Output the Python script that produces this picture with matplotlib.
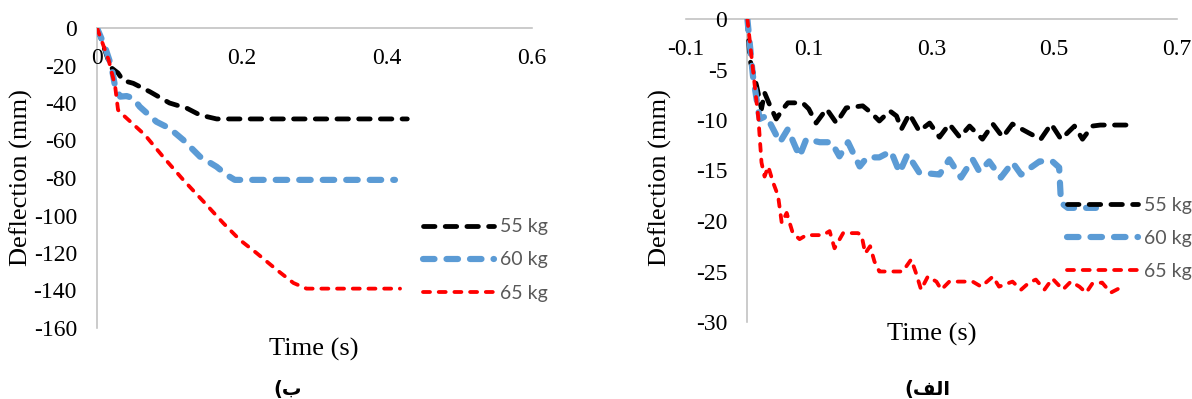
import matplotlib
matplotlib.use("Agg")
import matplotlib.pyplot as plt

# ---------------- data: left chart (ب) ----------------
left_t55 = [0, 0.005, 0.019, 0.029, 0.036, 0.05, 0.073, 0.1, 0.124, 0.142, 0.165, 0.428]
left_d55 = [0, -5, -21, -24, -28, -29.5, -34, -40, -42.8, -46.4, -48.5, -48.5]

left_t60 = [0, 0.011, 0.02, 0.025, 0.032, 0.041, 0.05, 0.059, 0.082, 0.1, 0.119, 0.142, 0.165, 0.179, 0.19, 0.411]
left_d60 = [0, -10, -20.6, -31.3, -36.6, -36.3, -37.5, -42, -50, -53.5, -59.7, -68.6, -74, -78.4, -81, -81]

left_t65 = [0, 0.016, 0.025, 0.029, 0.036, 0.066, 0.091, 0.119, 0.147, 0.174, 0.197, 0.22, 0.248, 0.271, 0.289, 0.418]
left_d65 = [0, -17, -31, -43.7, -46.4, -57, -68.6, -81, -92.6, -104, -113, -120, -129, -136, -139, -139]

left_xticks = [0, 0.2, 0.4, 0.6]
left_yticks = [0, -20, -40, -60, -80, -100, -120, -140, -160]

# ---------------- data: right chart (الف) ----------------
right_t55 = [0, 0.004, 0.015, 0.023, 0.028, 0.037, 0.047, 0.058, 0.066, 0.09, 0.1, 0.112, 0.129, 0.145,
             0.161, 0.188, 0.202, 0.215, 0.232, 0.243, 0.251, 0.264, 0.28, 0.297, 0.313, 0.329, 0.346,
             0.362, 0.383, 0.4, 0.416, 0.432, 0.459, 0.478, 0.495, 0.511, 0.533, 0.546, 0.562, 0.575, 0.62]
right_d55 = [0, -4, -6.6, -8.9, -7.3, -8.6, -9.9, -8.9, -8.3, -8.3, -8.9, -10.3, -8.9, -10.3,
             -8.8, -8.6, -9.3, -10.1, -9.1, -9.6, -10.9, -9.4, -11.1, -10.3, -11.7, -10.4, -11.7,
             -10.6, -11.9, -10.4, -11.7, -10.4, -11.3, -11.9, -10.4, -11.9, -10.6, -11.9, -10.6, -10.5, -10.5]

right_t60 = [0, 0.009, 0.02, 0.031, 0.042, 0.053, 0.066, 0.075, 0.085, 0.096, 0.118, 0.137, 0.15, 0.164,
             0.183, 0.195, 0.215, 0.234, 0.248, 0.261, 0.28, 0.313, 0.329, 0.348, 0.367, 0.378, 0.394,
             0.413, 0.432, 0.446, 0.462, 0.476, 0.497, 0.508, 0.511, 0.522, 0.568]
right_d60 = [0, -5.6, -9.9, -9.6, -10.9, -12.2, -10.9, -12.2, -13.6, -11.9, -12.2, -12.2, -13.6, -12.2,
             -14.6, -13.7, -13.7, -13.1, -15.2, -13.4, -15.2, -15.4, -13.9, -15.7, -13.9, -15.1, -14.1,
             -15.7, -14.2, -15.4, -14.7, -14.1, -14.1, -14.7, -18.2, -18.7, -18.7]

right_t65 = [0, 0.012, 0.018, 0.023, 0.028, 0.034, 0.042, 0.05, 0.056, 0.064, 0.074, 0.085, 0.096, 0.123,
             0.134, 0.142, 0.156, 0.18, 0.186, 0.192, 0.2, 0.207, 0.215, 0.253, 0.267, 0.275, 0.283,
             0.294, 0.308, 0.316, 0.329, 0.367, 0.381, 0.4, 0.41, 0.432, 0.446, 0.459, 0.47, 0.484,
             0.497, 0.514, 0.527, 0.541, 0.552, 0.562, 0.578, 0.592, 0.611]
right_d65 = [0, -6.6, -9.9, -14.2, -15.6, -14.6, -16.2, -17.5, -20.2, -19.2, -21.2, -21.8, -21.4, -21.4,
             -21, -22.7, -21.2, -21.2, -21.4, -23.2, -22.5, -24, -25, -25, -23.8, -25.2, -26.8,
             -25.5, -26, -26.8, -26, -26, -26.5, -25.5, -26.5, -26, -26.8, -26.1, -25.8, -26.8,
             -25.7, -26.8, -26, -26.5, -27.1, -26.2, -26.1, -27.1, -26.5]

right_xticks = [-0.1, 0.1, 0.3, 0.5, 0.7]
right_yticks = [0, -5, -10, -15, -20, -25, -30]

series_labels = ["55 kg", "60 kg", "65 kg"]
xlabel_text = "Time (s)"
ylabel_text = "Deflection (mm)"
caption_left = "(\uFE8F"                    # (ب
caption_right = "(\uFED2\uFEDF\uFE8D"       # (الف  (visual order)

# ---------------- styling ----------------
plt.rcParams["lines.scale_dashes"] = False
W, H = 1192, 399
PX = 72 / 100.0  # points per pixel

styles = [
    dict(color="#000000", lw=4.8 * PX, dashes=(11.5 * PX, 10.2 * PX), capstyle="round"),
    dict(color="#5B9BD5", lw=6.2 * PX, dashes=(11.5 * PX, 12.0 * PX), capstyle="round"),
    dict(color="#FF0000", lw=3.8 * PX, dashes=(7.0 * PX, 8.7 * PX), capstyle="round"),
]

SERIF = "Liberation Serif"
TICK_FS = 17
LABEL_FS = 19
LEG_FS = 14
AXIS_GRAY = "#C0C0C0"

fig = plt.figure(figsize=(W / 100, H / 100), dpi=100)
fig.patch.set_facecolor("white")


def make_axes(rect, xlim, ylim, xticks, yticks, data, legend_anchor):
    ax = fig.add_axes(rect)
    handles = []
    for (t, d), st, lab in zip(data, styles, series_labels):
        ln, = ax.plot(t, d, color=st["color"], lw=st["lw"], linestyle=(0, st["dashes"]),
                      dash_capstyle=st["capstyle"], solid_capstyle=st["capstyle"],
                      dash_joinstyle="round", label=lab, zorder=3)
        handles.append(ln)
    ax.set_xlim(*xlim)
    ax.set_ylim(*ylim)
    ax.set_xticks(xticks)
    ax.set_yticks(yticks)
    ax.set_xticklabels([f"{v:g}" for v in xticks])
    ax.set_yticklabels([f"{v:g}" for v in yticks])
    for s in ("top", "right"):
        ax.spines[s].set_visible(False)
    ax.spines["bottom"].set_position(("data", 0))
    ax.spines["left"].set_position(("data", 0))
    for s in ("bottom", "left"):
        ax.spines[s].set_color(AXIS_GRAY)
        ax.spines[s].set_linewidth(1.6 * PX)
        ax.spines[s].set_zorder(1)
    ax.tick_params(axis="both", length=0, labelsize=TICK_FS, labelcolor="black")
    ax.tick_params(axis="x", pad=14.5)
    ax.tick_params(axis="y", pad=14.4)
    for lbl in ax.get_xticklabels() + ax.get_yticklabels():
        lbl.set_fontfamily(SERIF)
    ax.patch.set_alpha(0)
    leg = ax.legend(handles=handles, loc="center left", bbox_to_anchor=legend_anchor,
                    bbox_transform=fig.transFigure, frameon=False, borderpad=0,
                    borderaxespad=0, handlelength=3.66, handletextpad=0.3,
                    labelspacing=0.83, prop={"family": "Lato", "size": LEG_FS})
    for tx in leg.get_texts():
        tx.set_color("#595959")
    leg.set_zorder(5)
    return ax


ax1 = make_axes([97 / W, 1 - 328 / H, 435 / W, 300 / H], (0, 0.6), (-160, 0),
                left_xticks, left_yticks,
                [(left_t55, left_d55), (left_t60, left_d60), (left_t65, left_d65)],
                (423 / W, 1 - 260 / H))

ax2 = make_axes([686 / W, 1 - 322 / H, 491 / W, 303 / H], (-0.1, 0.7), (-30, 0),
                right_xticks, right_yticks,
                [(right_t55, right_d55), (right_t60, right_d60), (right_t65, right_d65)],
                (1067 / W, 1 - 238.5 / H))

# axis titles
fig.text(314 / W, 1 - 349 / H, xlabel_text, ha="center", va="center", family=SERIF, fontsize=LABEL_FS)
fig.text(21 / W, 1 - 178 / H, ylabel_text, ha="center", va="center", rotation=90, family=SERIF, fontsize=LABEL_FS)
fig.text(932 / W, 1 - 334 / H, xlabel_text, ha="center", va="center", family=SERIF, fontsize=LABEL_FS)
fig.text(660 / W, 1 - 178 / H, ylabel_text, ha="center", va="center", rotation=90, family=SERIF, fontsize=LABEL_FS)

# captions
fig.text(288 / W, 1 - 390 / H, caption_left, ha="center", va="center", family=["DejaVu Sans"],
         fontweight="bold", fontsize=14)
fig.text(927 / W, 1 - 390 / H, caption_right, ha="center", va="center", family=["DejaVu Sans"],
         fontweight="bold", fontsize=14)

fig.savefig("out.png", dpi=100, facecolor="white")
